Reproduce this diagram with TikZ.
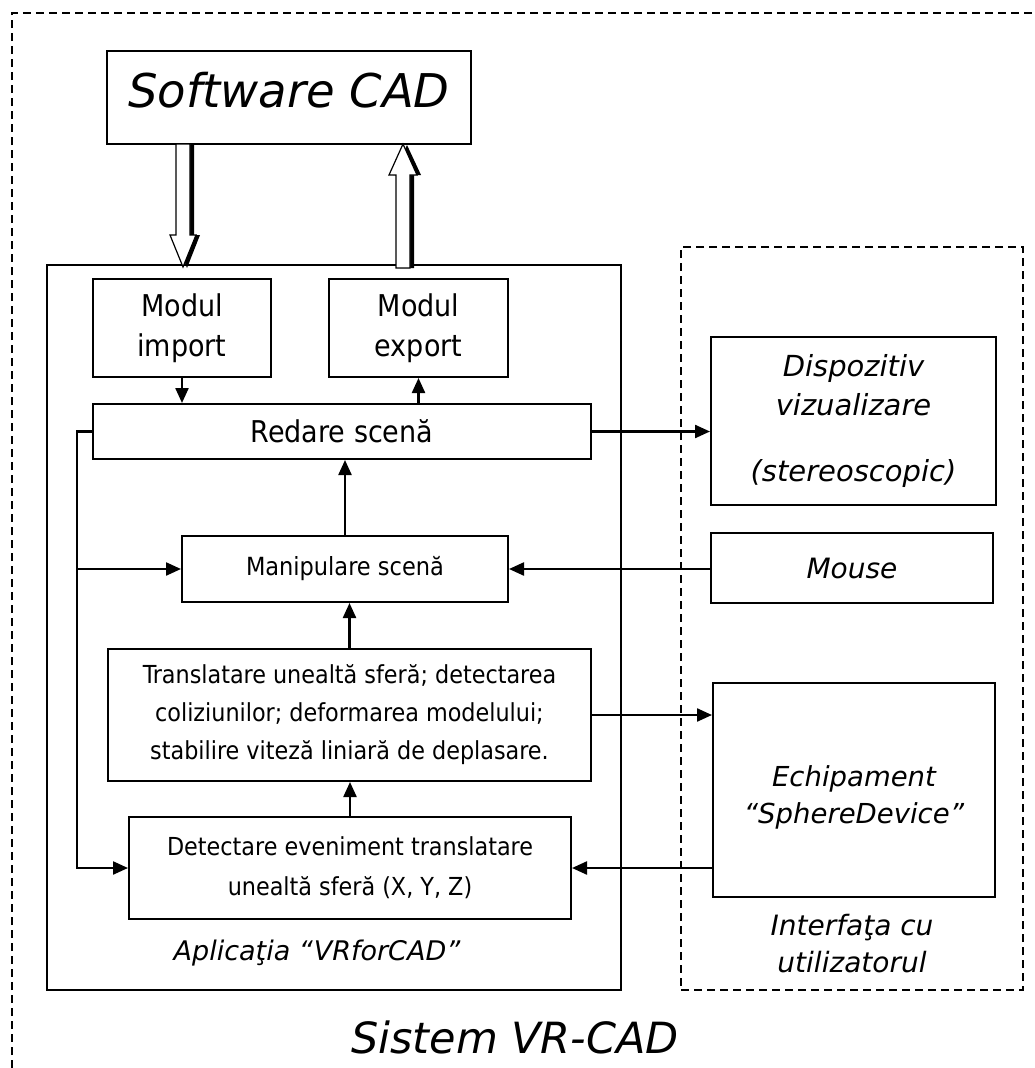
\documentclass[tikz,border=0pt]{standalone}
\usepackage{fontspec}
\setmainfont{DejaVu Sans Condensed}
\newfontfamily\obliquefont{DejaVu Sans}
\usetikzlibrary{arrows.meta}
\newcommand\setfs[2]{\fontsize{#1}{#2}\selectfont}

\begin{document}
\begin{tikzpicture}[x=1pt,y=-1pt,
  box/.style={draw, line width=2pt, inner sep=0pt, align=center},
  frame/.style={draw, line width=2pt, inner sep=0pt},
  dashframe/.style={draw, line width=2.2pt, dash pattern=on 8pt off 5pt, inner sep=0pt},
  slanted/.style={font=\obliquefont\itshape\setfs{#1}{37}},
  arr/.style={line width=2.3pt, -{Triangle[length=15pt,width=13pt]}},
  blockarrow/.style={fill=white, draw=black, line width=1.2pt, line join=miter},
  blockshadow/.style={fill=black}
]
\useasboundingbox (0,0) rectangle (1034,1068);

% outer system border (only its top and left edges lie inside the page)
\draw[line width=2.2pt, dash pattern=on 8pt off 5pt] (12,1068) -- (12,13) -- (1034,13);

% CAD software
\node[box, minimum width=364pt, minimum height=93pt, text depth=16pt,
      font=\obliquefont\itshape\setfs{46.5}{50}] (cad) at (289,97.5) {Software CAD};

% application frame and user interface frame
\node[frame, minimum width=574pt, minimum height=725pt] (app) at (334,627.5) {};
\node[dashframe, minimum width=342pt, minimum height=743pt] (ui) at (852,618.5) {};

% application modules
\node[box, minimum width=178pt, minimum height=98pt, font=\setfs{30}{40}] (imp) at (182,328) {Modul\\import};
\node[box, minimum width=179pt, minimum height=98pt, font=\setfs{30}{40}] (exp) at (418.5,328) {Modul\\export};
\node[box, minimum width=498pt, minimum height=55pt, font=\setfs{30}{40}] (red) at (342,431.5) {Redare scenă};
\node[box, minimum width=326pt, minimum height=66pt, font=\setfs{25}{34}] (man) at (345,569) {Manipulare scenă};
\node[box, minimum width=483pt, minimum height=132pt, font=\setfs{24.8}{38}] (tr) at (349.5,715)
  {Translatare unealtă sferă; detectarea\\coliziunilor; deformarea modelului;\\stabilire viteză liniară de deplasare.};
\node[box, minimum width=442pt, minimum height=102pt, font=\setfs{24.8}{40}] (det) at (350,868)
  {Detectare eveniment translatare\\unealtă sferă (X, Y, Z)};
\node[slanted=27] (applbl) at (317,953) {Aplicaţia “VRforCAD”};

% user interface devices
\node[box, minimum width=285pt, minimum height=168pt, font=\obliquefont\itshape\setfs{29}{39}] (disp) at (853.5,421)
  {Dispozitiv\\vizualizare\\[27pt](stereoscopic)};
\node[box, minimum width=282pt, minimum height=70pt, slanted=28] (mouse) at (852,568) {Mouse};
\node[box, minimum width=282pt, minimum height=214pt] (ech) at (854,790) {};
\node[slanted=27.5, align=center] (echtxt) at (854,797) {Echipament\\“SphereDevice”};
\node[slanted=28, align=center] (uilbl) at (852,943.5) {Interfaţa cu\\utilizatorul};

% whole system caption
\node[font=\obliquefont\itshape\setfs{43}{48}] (sys) at (515,1037) {Sistem VR-CAD};

% block arrows between the CAD software and the application
\coordinate (inTop) at (183,144);
\coordinate (outTop) at (403,144);
\begin{scope}[shift={(inTop)}]
  \fill[blockshadow] (-3,0) -- (11,0) -- (11,91) -- (17,91) -- (4,124) -- (-9,91) -- (-3,91) -- cycle;
  \draw[blockarrow] (-7,0) -- (7,0) -- (7,91) -- (13,91) -- (0,123) -- (-13,91) -- (-7,91) -- cycle;
\end{scope}
\begin{scope}[shift={(outTop)}]
  \fill[blockshadow] (-3,124) -- (-3,31) -- (-10,31) -- (4,1) -- (18,31) -- (11,31) -- (11,124) -- cycle;
  \draw[blockarrow] (-7,124) -- (-7,31) -- (-14,31) -- (0,0) -- (14,31) -- (7,31) -- (7,124) -- cycle;
\end{scope}

% data flow inside the application
\draw[arr] (imp.south) -- (imp.south |- red.north);
\draw[arr] (exp.south |- red.north) -- (exp.south);
\draw[arr] (man.north) -- (man.north |- red.south);
\draw[arr] (tr.north) -- (tr.north |- man.south);
\draw[arr] (det.north) -- (det.north |- tr.south);

% feedback from rendering back to manipulation and detection
\coordinate (fbx) at (77,0);
\draw[arr] (red.west) -- (red.west -| fbx) -- (det.west -| fbx) -- (det.west);
\draw[arr] (man.west -| fbx) -- (man.west);

% links to the user interface
\draw[arr] (red.east) -- (red.east -| disp.west);
\draw[arr] (man.east -| mouse.west) -- (man.east);
\draw[arr] (tr.east) -- (tr.east -| ech.west);
\draw[arr] (det.east -| ech.west) -- (det.east);
\end{tikzpicture}
\end{document}
